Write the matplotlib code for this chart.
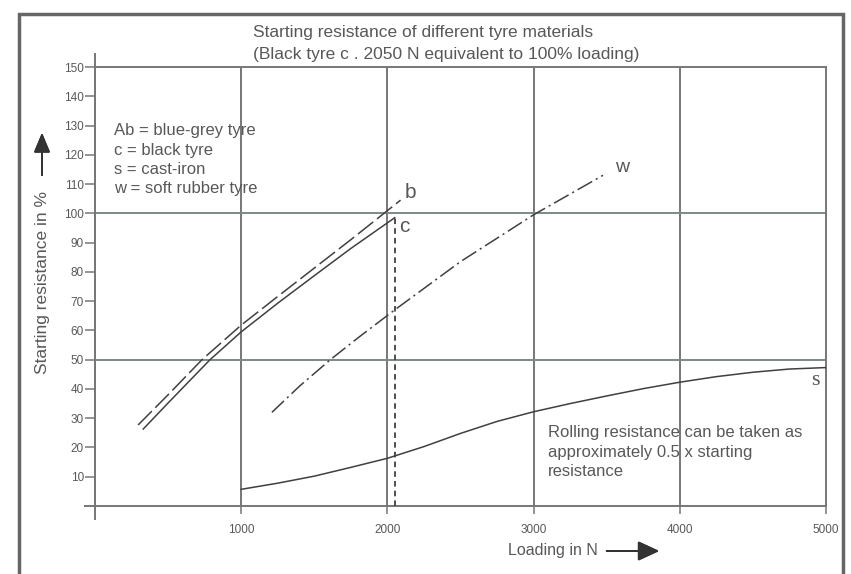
import matplotlib
matplotlib.use("Agg")
import matplotlib.pyplot as plt
from matplotlib.lines import Line2D
from matplotlib.patches import Rectangle

plt.rcParams['font.family'] = ['Liberation Sans', 'DejaVu Sans']
plt.rcParams['lines.scale_dashes'] = False

# ---- data ----
b_x = [295, 500, 732, 1000, 1250, 1500, 1750, 2090]
b_y = [27.7, 38, 50, 61.8, 71.6, 81.3, 91.0, 104.5]

c_x = [330, 500, 787, 1000, 1250, 1500, 1750, 2050]
c_y = [26.3, 35.2, 50, 59.5, 69.3, 78.7, 88.0, 98.5]

w_x = [1210, 1400, 1610, 1800, 2050, 2500, 3000, 3475]
w_y = [32, 41, 50, 57.5, 67, 83.5, 99.5, 113]

s_x = [1000, 1250, 1500, 1750, 2000, 2250, 2500, 2750, 3000, 3250, 3500,
       3750, 4000, 4250, 4500, 4750, 5000]
s_y = [5.7, 7.8, 10.2, 13.2, 16.3, 20.3, 24.8, 28.9, 32.2, 35.0, 37.6,
       40.1, 42.3, 44.2, 45.7, 46.8, 47.3]

ref_load = 2050
ref_res = 98.5

x_ticks = [1000, 2000, 3000, 4000, 5000]
y_ticks = list(range(10, 151, 10))
h_lines = [50, 100]

title_lines = ["Starting resistance of different tyre materials",
               "(Black tyre c . 2050 N equivalent to 100% loading)"]
legend_lines = ["Ab = blue-grey tyre", "c = black tyre", "s = cast-iron",
                "w = soft rubber tyre"]
note_lines = ["Rolling resistance can be taken as",
              "approximately 0.5 x starting",
              "resistance"]

W, H = 851, 574
TXT = '#585858'
GRID = '#777777'
LINE = '#404040'

fig = plt.figure(figsize=(W / 100, H / 100), dpi=100)
fig.patch.set_facecolor('white')


def fx(px):
    return px / W


def fy(py):
    return 1 - py / H


ax = fig.add_axes([fx(95), fy(506), fx(826) - fx(95), fy(67) - fy(506)])
ax.set_xlim(0, 5000)
ax.set_ylim(0, 150)

for sp in ax.spines.values():
    sp.set_color(GRID)
    sp.set_linewidth(1.4)

ax.set_xticks(x_ticks)
ax.set_xticklabels([str(t) for t in x_ticks])
ax.set_yticks(y_ticks)
ax.set_yticklabels([str(t) for t in y_ticks])
ax.tick_params(axis='y', direction='out', length=7, width=1.1, color=GRID,
               labelsize=8.5, labelcolor=TXT, pad=1)
ax.tick_params(axis='x', direction='out', length=6, width=1.1, color=GRID,
               labelsize=8.5, labelcolor=TXT, pad=7)

for xv in x_ticks[:-1]:
    ax.axvline(xv, color=GRID, lw=1.4, zorder=1)
for yv in h_lines:
    ax.axhline(yv, color='#7d8a84', lw=1.4, zorder=1)

# axis line extensions
ax.add_line(Line2D([0, 0], [-0.03, 1.03], transform=ax.transAxes, color=GRID,
                   lw=1.4, clip_on=False))
ax.add_line(Line2D([-0.014, 0], [0, 0], transform=ax.transAxes, color=GRID,
                   lw=1.4, clip_on=False))

# curves
ax.plot(b_x, b_y, color=LINE, lw=1.1, dashes=(14, 3.5), zorder=3)
ax.plot(c_x, c_y, color=LINE, lw=1.1, zorder=3)
ax.plot(w_x, w_y, color=LINE, lw=1.1, dashes=(12, 3, 1.5, 3), zorder=3)
ax.plot(s_x, s_y, color=LINE, lw=1.1, zorder=3)
ax.plot([ref_load, ref_load], [0, ref_res], color=LINE, lw=1.3,
        dashes=(4, 3), zorder=3)

ax.text(2120, 107, 'b', fontsize=15, color=TXT, va='center', ha='left')
ax.text(2080, 95.5, 'c', fontsize=15, color=TXT, va='center', ha='left')
ax.text(3560, 115.5, 'w', fontsize=14, color=TXT, va='center', ha='left')
ax.text(4930, 43, 's', fontsize=16, color=TXT, va='center', ha='center',
        family='Liberation Serif')

# texts
for i, t in enumerate(title_lines):
    fig.text(fx(253), fy(33 + 22 * i), t, fontsize=12.5, color=TXT,
             ha='left', va='center')
for i, t in enumerate(legend_lines):
    fig.text(fx(114), fy(131 + 19.3 * i), t, fontsize=12, color=TXT,
             ha='left', va='center')
for i, t in enumerate(note_lines):
    fig.text(fx(548), fy(433 + 19.5 * i), t, fontsize=12, color=TXT,
             ha='left', va='center')

fig.text(fx(43), fy(282), 'Starting resistance in %', fontsize=12.5,
         color=TXT, rotation=90, ha='center', va='center')
fig.text(fx(508), fy(551), 'Loading in N', fontsize=11.5, color=TXT,
         ha='left', va='center')

fig.add_artist(plt.annotate('', xy=(fx(42), fy(130)), xytext=(fx(42), fy(178)),
                            xycoords='figure fraction', textcoords='figure fraction',
                            arrowprops=dict(arrowstyle='-|>,head_length=1.2,head_width=0.5',
                                            color='#333333', lw=1.3)))
fig.add_artist(plt.annotate('', xy=(fx(662), fy(551)), xytext=(fx(604), fy(551)),
                            xycoords='figure fraction', textcoords='figure fraction',
                            arrowprops=dict(arrowstyle='-|>,head_length=1.3,head_width=0.6',
                                            color='#333333', lw=1.4)))

# outer frame
fig.add_artist(Rectangle((fx(19), fy(H + 10)), fx(843) - fx(19), fy(14) - fy(H + 10),
                         transform=fig.transFigure, fill=False, edgecolor='#666666',
                         lw=2.5))

fig.savefig('out.png', dpi=100)
